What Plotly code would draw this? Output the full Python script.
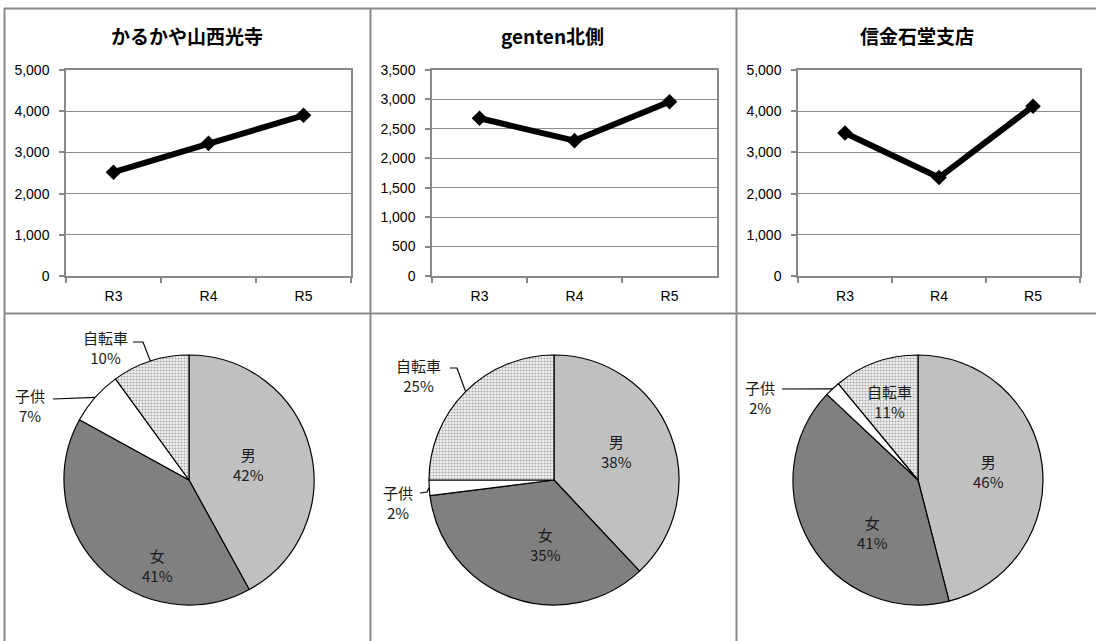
import math
import plotly.graph_objects as go

W, H = 1096, 641

# ---------------- data ----------------
stores = ["かるかや山西光寺", "genten北側", "信金石堂支店"]
years = ["R3", "R4", "R5"]
counts_karukaya = [2520, 3220, 3900]
counts_genten = [2680, 2300, 2960]
counts_shinkin = [3470, 2390, 4120]
y_max = [5000, 3500, 5000]
y_step = [1000, 500, 1000]

categories = ["男", "女", "子供", "自転車"]
share_karukaya = [42, 41, 7, 10]
share_genten = [38, 35, 2, 25]
share_shinkin = [46, 41, 2, 11]

counts = [counts_karukaya, counts_genten, counts_shinkin]
shares = [share_karukaya, share_genten, share_shinkin]

# ---------------- layout config (pixels) ----------------
plot_x = [(66, 351), (432, 717), (798, 1080)]
plot_y = (70, 276)
title_x = [187, 552, 917]
title_y = 36
pie_cx = [189, 554, 918]
pie_cy = 480
pie_r = 125

# label block centres per pie, per category
label_pos = [
    [(249, 464), (157, 565), (30, 405), (105, 347)],
    [(616, 451), (545, 544), (398, 502), (418, 375)],
    [(988, 471), (872, 532), (760, 397), (889, 402)],
]
# leader lines: list of points from label to slice edge (edge appended from data)
leaders = [
    {2: [(53, 399)], 3: [(133, 342), (143, 342)]},
    {2: [(420, 493), (427, 492)], 3: [(450, 368), (457, 368)]},
    {2: [(782, 389)]},
]

slice_colors = ["#c0c0c0", "#808080", "#ffffff", "#ffffff"]
slice_patterns = ["", "", "", "."]

border_color = "#8a8a8a"
cjk = "Noto Sans CJK JP"
tick_font = dict(family="Liberation Sans, Arial", size=14, color="black")


def fx(p):
    return p / W


def fy(p):
    return 1 - p / H


fig = go.Figure()
annotations = []
shapes = []

for i in range(3):
    n = "" if i == 0 else str(i + 1)
    fig.add_trace(go.Scatter(
        x=years, y=counts[i], mode="lines+markers",
        line=dict(color="black", width=6),
        marker=dict(symbol="diamond", size=12, color="black"),
        xaxis="x" + n, yaxis="y" + n, showlegend=False,
    ))
    x0, x1 = plot_x[i]
    fig.update_layout(**{
        "xaxis" + n: dict(
            domain=[fx(x0), fx(x1)], anchor="y" + n, type="category",
            range=[-0.5, 2.5], tickson="boundaries", ticks="outside",
            ticklen=5, tickcolor="#888", tickwidth=1.5, showline=True,
            linecolor="#888", linewidth=1.5, mirror=True, showgrid=False,
            ticklabelstandoff=6, tickfont=tick_font, fixedrange=True,
            automargin=False,
        ),
        "yaxis" + n: dict(
            domain=[fy(plot_y[1]), fy(plot_y[0])], anchor="x" + n,
            range=[0, y_max[i]], dtick=y_step[i], tickformat=",d",
            showgrid=True, gridcolor="#8c8c8c", gridwidth=1,
            ticks="outside", ticklen=5, tickcolor="#888", tickwidth=1.5,
            showline=True, linecolor="#888", linewidth=1.5, mirror=True,
            zeroline=False, ticklabelstandoff=7, tickfont=tick_font,
            fixedrange=True, automargin=False,
        ),
    })
    annotations.append(dict(
        text="<b>%s</b>" % stores[i], x=fx(title_x[i]), y=fy(title_y),
        xref="paper", yref="paper", showarrow=False,
        xanchor="center", yanchor="middle",
        font=dict(family=cjk, size=19, color="black"),
    ))

    # pie
    cx = pie_cx[i]
    vals = shares[i]
    fig.add_trace(go.Pie(
        values=vals, labels=categories, sort=False, direction="clockwise",
        rotation=0, textinfo="none", hoverinfo="label+percent",
        domain=dict(x=[fx(cx - pie_r), fx(cx + pie_r)],
                    y=[fy(pie_cy + pie_r), fy(pie_cy - pie_r)]),
        marker=dict(colors=slice_colors,
                    line=dict(color="black", width=1.2),
                    pattern=dict(shape=slice_patterns, fgcolor="#a8a8a8",
                                 bgcolor="#f4f4f4", size=3, solidity=0.4)),
        showlegend=False,
    ))
    total = sum(vals)
    cum = 0
    for k, v in enumerate(vals):
        mid = (cum + v / 2) / total * 2 * math.pi
        cum += v
        lx, ly = label_pos[i][k]
        annotations.append(dict(
            text="%s<br>%d%%" % (categories[k], round(v / total * 100)),
            x=fx(lx), y=fy(ly), xref="paper", yref="paper", showarrow=False,
            xanchor="center", yanchor="middle",
            font=dict(family=cjk, size=15, color="#1a1a1a"),
        ))
        if k in leaders[i]:
            ex = cx + pie_r * math.sin(mid)
            ey = pie_cy - pie_r * math.cos(mid)
            pts = leaders[i][k] + [(ex, ey)]
            path = "M %f %f" % (fx(pts[0][0]), fy(pts[0][1]))
            for (px_, py_) in pts[1:]:
                path += " L %f %f" % (fx(px_), fy(py_))
            shapes.append(dict(type="path", path=path, xref="paper",
                               yref="paper", line=dict(color="black", width=1.2)))

# panel borders
for bx in [4.5, 370.5, 736.5]:
    shapes.append(dict(type="line", xref="paper", yref="paper",
                       x0=fx(bx), x1=fx(bx), y0=fy(8), y1=fy(H),
                       line=dict(color=border_color, width=2)))
for by in [8.5, 313.5]:
    shapes.append(dict(type="line", xref="paper", yref="paper",
                       x0=fx(4), x1=fx(W), y0=fy(by), y1=fy(by),
                       line=dict(color=border_color, width=2)))

fig.update_layout(
    width=W, height=H, margin=dict(l=0, r=0, t=0, b=0, pad=0,
                                   autoexpand=False),
    paper_bgcolor="white", plot_bgcolor="white",
    annotations=annotations, shapes=shapes, showlegend=False,
)

fig.write_html(
    "out.html",
    config={"displayModeBar": False},
    post_script=(
        "document.body.style.margin='0';"
        "document.body.style.overflow='hidden';"
        "var d=document.getElementById('{plot_id}');"
        "d.style.position='fixed';d.style.top='0';d.style.left='0';"
    ),
)
